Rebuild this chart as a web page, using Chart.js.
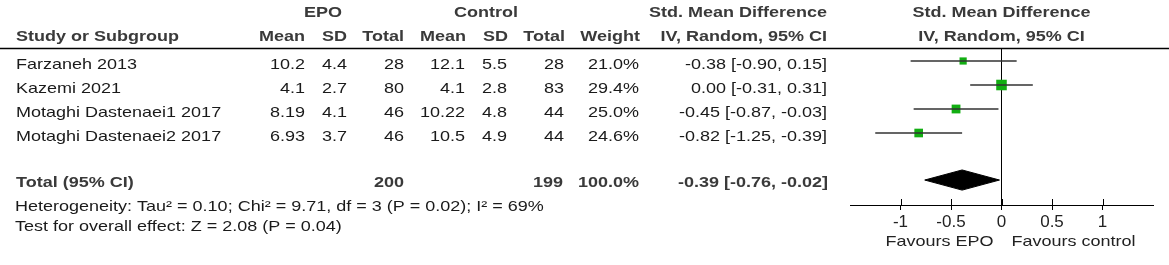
<!DOCTYPE html>
<html>
<head>
<meta charset="utf-8">
<script src="https://cdn.jsdelivr.net/npm/chart.js@4.4.1/dist/chart.umd.min.js"></script>
<style>
  html, body { margin: 0; padding: 0; background: #fff; }
  #wrap { width: 1169px; height: 265px; position: relative; }
</style>
</head>
<body>
<div id="wrap"><canvas id="forest"></canvas></div>
<script>
// study data
const studies = ['Farzaneh 2013', 'Kazemi 2021', 'Motaghi Dastenaei1 2017', 'Motaghi Dastenaei2 2017'];
const epoMean = [10.2, 4.1, 8.19, 6.93];
const epoSD = [4.4, 2.7, 4.1, 3.7];
const epoTotal = [28, 80, 46, 46];
const ctrlMean = [12.1, 4.1, 10.22, 10.5];
const ctrlSD = [5.5, 2.8, 4.8, 4.9];
const ctrlTotal = [28, 83, 44, 44];
const weights = [21.0, 29.4, 25.0, 24.6];
const smd = [-0.38, 0.00, -0.45, -0.82];
const ciLow = [-0.90, -0.31, -0.87, -1.25];
const ciHigh = [0.15, 0.31, -0.03, -0.39];

// pooled result
const pooledEpoTotal = 200;
const pooledCtrlTotal = 199;
const pooledWeight = 100.0;
const pooledSmd = -0.39;
const pooledLow = -0.76;
const pooledHigh = -0.02;
const heterogeneity = 'Heterogeneity: Tau\u00b2 = 0.10; Chi\u00b2 = 9.71, df = 3 (P = 0.02); I\u00b2 = 69%';
const overallEffect = 'Test for overall effect: Z = 2.08 (P = 0.04)';

// axis
const tickValues = [-1, -0.5, 0, 0.5, 1];
const tickLabels = ['-1', '-0.5', '0', '0.5', '1'];

const TOTAL_ROW = 5.96;
const SX = 1.2; // text in the source is drawn horizontally stretched
const FONT = '"Liberation Sans", Arial, sans-serif';

const fmtCI = (m, lo, hi) => m.toFixed(2) + ' [' + lo.toFixed(2) + ', ' + hi.toFixed(2) + ']';

// whiskers as one broken line
const whiskerData = [];
studies.forEach((s, i) => {
    whiskerData.push({ x: ciLow[i], y: i + 1 }, { x: ciHigh[i], y: i + 1 }, { x: null, y: null });
});

const diamondHalf = 0.42;
const diamondData = [
    { x: pooledLow, y: TOTAL_ROW },
    { x: pooledSmd, y: TOTAL_ROW - diamondHalf },
    { x: pooledHigh, y: TOTAL_ROW },
    { x: pooledSmd, y: TOTAL_ROW + diamondHalf },
    { x: pooledLow, y: TOTAL_ROW }
];

function txt(ctx, s, x, y, align, bold, color) {
    ctx.save();
    ctx.font = (bold ? 'bold ' : '') + '15px ' + FONT;
    ctx.fillStyle = color || '#1a1a1a';
    ctx.textAlign = align;
    ctx.textBaseline = 'middle';
    ctx.translate(x, y);
    ctx.scale(SX, 1);
    ctx.fillText(s, 0, 0);
    ctx.restore();
}

const tablePlugin = {
    id: 'table',
    afterDraw(chart) {
        const ctx = chart.ctx;
        const xs = chart.scales.x;
        const ys = chart.scales.y;
        const hd = '#3a3a3a';
        const zeroX = xs.getPixelForValue(0);

        // header
        txt(ctx, 'EPO', 323, 13, 'center', true, hd);
        txt(ctx, 'Control', 486, 13, 'center', true, hd);
        txt(ctx, 'Std. Mean Difference', 827, 13, 'right', true, hd);
        txt(ctx, 'Std. Mean Difference', zeroX, 13, 'center', true, hd);
        txt(ctx, 'Study or Subgroup', 16, 37, 'left', true, hd);
        txt(ctx, 'Mean', 305, 37, 'right', true, hd);
        txt(ctx, 'SD', 347, 37, 'right', true, hd);
        txt(ctx, 'Total', 404, 37, 'right', true, hd);
        txt(ctx, 'Mean', 466, 37, 'right', true, hd);
        txt(ctx, 'SD', 508, 37, 'right', true, hd);
        txt(ctx, 'Total', 565, 37, 'right', true, hd);
        txt(ctx, 'Weight', 640, 37, 'right', true, hd);
        txt(ctx, 'IV, Random, 95% CI', 827, 37, 'right', true, hd);
        txt(ctx, 'IV, Random, 95% CI', zeroX, 37, 'center', true, hd);

        ctx.save();
        ctx.strokeStyle = '#000';
        ctx.lineWidth = 1.5;
        ctx.beginPath();
        ctx.moveTo(0, 48.5);
        ctx.lineTo(1169, 48.5);
        ctx.stroke();
        ctx.restore();

        // study rows
        studies.forEach((s, i) => {
            const y = ys.getPixelForValue(i + 1) + 3.5;
            txt(ctx, s, 16, y, 'left');
            txt(ctx, String(epoMean[i]), 305, y, 'right');
            txt(ctx, String(epoSD[i]), 347, y, 'right');
            txt(ctx, String(epoTotal[i]), 404, y, 'right');
            txt(ctx, String(ctrlMean[i]), 465, y, 'right');
            txt(ctx, String(ctrlSD[i]), 507, y, 'right');
            txt(ctx, String(ctrlTotal[i]), 564, y, 'right');
            txt(ctx, weights[i].toFixed(1) + '%', 639, y, 'right');
            txt(ctx, fmtCI(smd[i], ciLow[i], ciHigh[i]), 827, y, 'right');
        });

        // total row
        const ty = ys.getPixelForValue(TOTAL_ROW) + 3;
        txt(ctx, 'Total (95% CI)', 16, ty, 'left', true, hd);
        txt(ctx, String(pooledEpoTotal), 404, ty, 'right', true, hd);
        txt(ctx, String(pooledCtrlTotal), 563, ty, 'right', true, hd);
        txt(ctx, pooledWeight.toFixed(1) + '%', 639, ty, 'right', true, hd);
        txt(ctx, fmtCI(pooledSmd, pooledLow, pooledHigh), 828, ty, 'right', true, hd);

        txt(ctx, heterogeneity, 15, 207, 'left');
        txt(ctx, overallEffect, 15, 227, 'left');

        // upper half of the tick marks
        ctx.save();
        ctx.strokeStyle = '#000';
        ctx.lineWidth = 1;
        xs.ticks.forEach(t => {
            const px = Math.round(xs.getPixelForValue(t.value)) + 0.5;
            ctx.beginPath();
            ctx.moveTo(px, xs.top - 6);
            ctx.lineTo(px, xs.top);
            ctx.stroke();
        });
        ctx.restore();

        // favours labels
        txt(ctx, 'Favours EPO', zeroX - 8, 242, 'right', false, '#222');
        txt(ctx, 'Favours control', zeroX + 10, 242, 'left', false, '#222');
    }
};

new Chart(document.getElementById('forest'), {
    type: 'scatter',
    data: {
        datasets: [
            {
                label: 'CI',
                data: whiskerData,
                showLine: true,
                spanGaps: false,
                borderColor: '#333',
                borderWidth: 1.5,
                pointRadius: 0
            },
            {
                label: 'SMD',
                data: smd.map((v, i) => ({ x: v, y: i + 1 })),
                pointStyle: 'rect',
                pointRadius: weights.map(w => (w - 3) * 0.4 / Math.SQRT2),
                backgroundColor: '#12ae12',
                borderColor: '#12ae12',
                borderWidth: 0
            },
            {
                label: 'Total',
                data: diamondData,
                showLine: true,
                fill: 'shape',
                backgroundColor: '#000',
                borderColor: '#000',
                borderWidth: 1,
                pointRadius: 0
            }
        ]
    },
    options: {
        responsive: true,
        maintainAspectRatio: false,
        animation: false,
        layout: {
            padding: { left: 850, right: 16, top: 49, bottom: 0 }
        },
        scales: {
            x: {
                type: 'linear',
                min: -1.5,
                max: 1.5,
                afterBuildTicks: (scale) => {
                    scale.ticks = tickValues.map(v => ({ value: v }));
                },
                afterFit: (scale) => {
                    scale.height = 60;
                },
                border: { display: true, color: '#000', width: 1 },
                grid: {
                    drawOnChartArea: true,
                    color: (c) => (c.tick && c.tick.value === 0 ? '#000' : 'rgba(0,0,0,0)'),
                    tickColor: '#000',
                    tickLength: 5,
                    lineWidth: 1
                },
                ticks: {
                    autoSkip: false,
                    maxRotation: 0,
                    padding: 2,
                    color: '#222',
                    font: { family: FONT, size: 17 },
                    callback: (value, index) => tickLabels[index]
                }
            },
            y: {
                type: 'linear',
                display: false,
                reverse: true,
                min: 0.5,
                max: 7.0
            }
        },
        plugins: {
            legend: { display: false },
            tooltip: { enabled: false }
        }
    },
    plugins: [tablePlugin]
});
</script>
</body>
</html>
